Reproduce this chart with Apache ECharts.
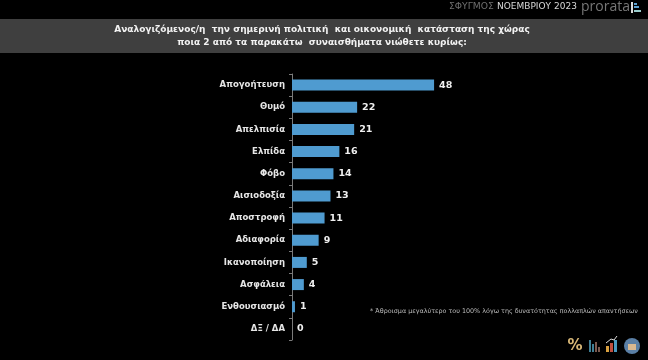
<!DOCTYPE html>
<html><head><meta charset="utf-8">
<style>html,body{margin:0;padding:0;background:#000}#c{width:648px;height:360px}</style>
<script src="https://cdn.jsdelivr.net/npm/echarts@6/dist/echarts.min.js"></script>
</head><body><div id="c"></div>
<script>
const categories=["Απογοήτευση","Θυμό","Απελπισία","Ελπίδα","Φόβο","Αισιοδοξία","Αποστροφή","Αδιαφορία","Ικανοποίηση","Ασφάλεια","Ενθουσιασμό","ΔΞ / ΔΑ"];
const values=[48,22,21,16,14,13,11,9,5,4,1,0];
const titleLines=["Αναλογιζόμενος/η  την σημερινή πολιτική  και οικονομική  κατάσταση της χώρας","ποια 2 από τα παρακάτω  συναισθήματα νιώθετε κυρίως:"];
const note="* Άθροισμα μεγαλύτερο του 100% λόγω της δυνατότητας πολλαπλών απαντήσεων";
const chart=echarts.init(document.getElementById('c'),null,{renderer:'canvas'});
const font='"DejaVu Sans"';
chart.setOption({
 backgroundColor:'#000',animation:false,
 grid:{left:292,top:74,width:296,height:266,containLabel:false},
 xAxis:{type:'value',min:0,max:100,show:false},
 yAxis:{type:'category',inverse:true,data:categories,
  axisLine:{show:true,lineStyle:{color:'#7a7a7a',width:1}},
  axisTick:{show:true,length:3,inside:false,lineStyle:{color:'#7a7a7a'}},
  axisLabel:{color:'#e6e6e6',fontFamily:font,fontSize:8.5,fontWeight:'bold',margin:7}},
 series:[{type:'bar',data:values,barWidth:11,
  itemStyle:{color:'#4f9bd0'},
  label:{show:true,position:'right',distance:5,color:'#efefef',fontFamily:font,fontSize:9.5,fontWeight:'bold'}}],
 graphic:[
  {type:'rect',z:-1,shape:{x:0,y:19,width:648,height:34},style:{fill:'#3f3f3f'}},
  {type:'text',x:322,y:30,style:{text:titleLines[0],fill:'#f2f2f2',font:'bold 9px '+font,textAlign:'center',textVerticalAlign:'middle'}},
  {type:'text',x:322,y:43,style:{text:titleLines[1],fill:'#f2f2f2',font:'bold 9px '+font,textAlign:'center',textVerticalAlign:'middle'}},
  {type:'text',x:449,y:7,style:{text:'ΣΦΥΓΜΟΣ',fill:'#6f6f6f',font:'9.2px '+font,textAlign:'left',textVerticalAlign:'middle'}},
  {type:'text',x:497,y:7,style:{text:'ΝΟΕΜΒΡΙΟΥ 2023',fill:'#d8d8d8',font:'9px '+font,textAlign:'left',textVerticalAlign:'middle'}},
  {type:'text',x:581,y:7,style:{text:'prorata',fill:'#777',font:'14px "Open Sans"',textAlign:'left',textVerticalAlign:'middle'}},
  {type:'rect',shape:{x:631,y:2,width:2,height:11},style:{fill:'#ddd'}},
  {type:'rect',shape:{x:634,y:3,width:3,height:2},style:{fill:'#5aa0d0'}},
  {type:'rect',shape:{x:634,y:6,width:5,height:2},style:{fill:'#5aa0d0'}},
  {type:'rect',shape:{x:634,y:10,width:7,height:2},style:{fill:'#9cc'}},
  {type:'text',x:504,y:311,style:{text:note,fill:'#bdbdbd',font:'6.4px '+font,textAlign:'center',textVerticalAlign:'middle'}},
  {type:'text',x:575,y:346,style:{text:'%',fill:'#d9b877',font:'bold 15px '+font,textAlign:'center',textVerticalAlign:'middle'}},
  {type:'rect',shape:{x:589,y:340,width:2,height:12},style:{fill:'#3f7f95'}},
  {type:'rect',shape:{x:592,y:344,width:2,height:8},style:{fill:'#3f7f95'}},
  {type:'rect',shape:{x:595,y:342,width:2,height:10},style:{fill:'#7a5a50'}},
  {type:'rect',shape:{x:598,y:347,width:2,height:5},style:{fill:'#7a5a50'}},
  {type:'rect',shape:{x:606,y:346,width:3,height:6},style:{fill:'#d8a040'}},
  {type:'rect',shape:{x:610,y:343,width:3,height:9},style:{fill:'#c05040'}},
  {type:'rect',shape:{x:614,y:340,width:3,height:12},style:{fill:'#4a9ac0'}},
  {type:'polyline',shape:{points:[[606,343],[611,339],[614,340],[617,336]]},style:{stroke:'#ddd',fill:null,lineWidth:1}},
  {type:'circle',shape:{cx:632,cy:346,r:8},style:{fill:'#5a7fa5'}},
  {type:'rect',shape:{x:628,y:344,width:8,height:6},style:{fill:'#d8b890'}}
 ]
});
</script></body></html>
